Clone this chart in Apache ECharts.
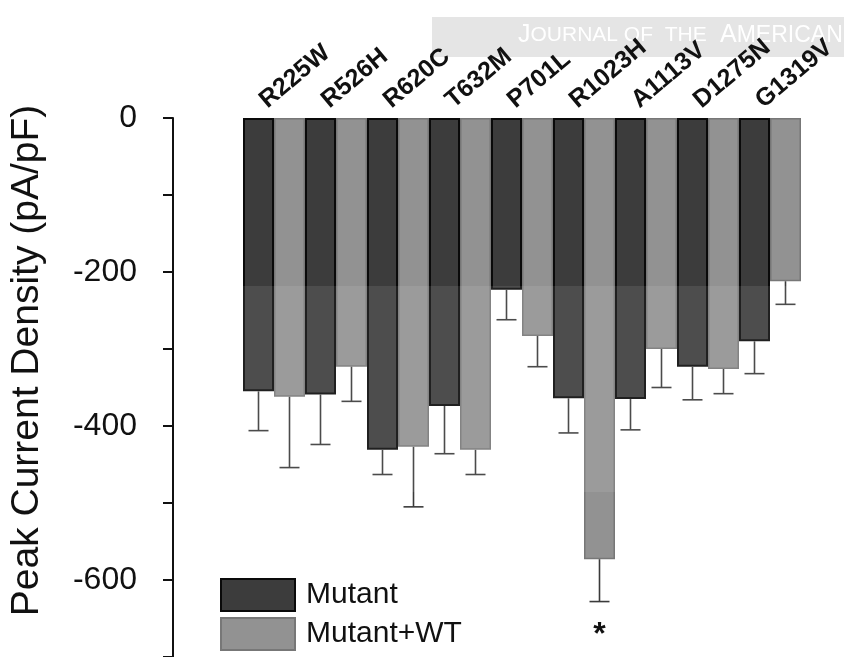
<!DOCTYPE html>
<html>
<head>
<meta charset="utf-8">
<title>Peak Current Density</title>
<script src="https://cdn.jsdelivr.net/npm/echarts@6/dist/echarts.min.js"></script>
<style>
  html, body { margin: 0; padding: 0; background: #fff; }
  #chart { width: 844px; height: 657px; }
</style>
</head>
<body>
<div id="chart"></div>
<script>
// data
var categories = ['R225W', 'R526H', 'R620C', 'T632M', 'P701L', 'R1023H', 'A1113V', 'D1275N', 'G1319V'];
var mutant = [-355, -359, -431, -374, -223, -364, -365, -323, -290];
var mutantErr = [51, 65, 32, 62, 39, 45, 40, 43, 42];
var mutantWT = [-362, -323, -427, -431, -283, -573, -300, -326, -212];
var mutantWTErr = [92, 45, 78, 32, 40, 55, 50, 32, 30];
var sigWT = ['', '', '', '', '', '*', '', '', ''];
var tickLabels = [0, -200, -400, -600];

var FONT = 'Liberation Sans, Arial, Helvetica, sans-serif';

// error bar rows: [category index, mean, sem, series index, mark]
var errRows = [];
mutant.forEach(function (v, i) { errRows.push([i, v, mutantErr[i], 0, '']); });
mutantWT.forEach(function (v, i) { errRows.push([i, v, mutantWTErr[i], 1, sigWT[i]]); });

var chart = echarts.init(document.getElementById('chart'));

chart.setOption({
  animation: false,
  grid: [
    // bars
    { left: 243, right: 43, top: 118, bottom: 0 },
    // same band, nudged, only used for the rotated labels
    { left: 240, right: 46, top: 118, bottom: 0 }
  ],
  legend: {
    data: ['Mutant', 'Mutant+WT'],
    orient: 'vertical',
    left: 220,
    top: 578,
    padding: 0,
    itemWidth: 74,
    itemHeight: 32,
    itemGap: 5,
    icon: 'rect',
    selectedMode: false,
    textStyle: { fontSize: 30, fontFamily: FONT, color: '#111', padding: [0, 0, 0, 6] }
  },
  xAxis: [{
    type: 'category',
    gridIndex: 0,
    data: categories,
    position: 'top',
    axisLine: { show: false },
    axisTick: { show: false },
    axisLabel: { show: false },
    splitLine: { show: false }
  }, {
    type: 'category',
    gridIndex: 1,
    data: categories,
    position: 'top',
    axisLine: { show: false },
    axisTick: { show: false },
    axisLabel: {
      interval: 0,
      rotate: 40,
      margin: 5,
      verticalAlign: 'bottom',
      fontSize: 25,
      fontWeight: 'bold',
      fontFamily: FONT,
      color: '#111'
    }
  }],
  yAxis: [{
    type: 'value',
    gridIndex: 0,
    min: -700,
    max: 0,
    interval: 100,
    offset: 70,
    name: 'Peak Current Density (pA/pF)',
    nameLocation: 'middle',
    nameRotate: 90,
    nameGap: 126,
    nameTextStyle: { fontSize: 39, fontFamily: FONT, color: '#111', padding: [0, 0, 0, 54] },
    axisLine: { show: true, lineStyle: { color: '#111', width: 2 } },
    axisTick: { show: true, length: 10, lineStyle: { color: '#111', width: 2 } },
    axisLabel: {
      customValues: tickLabels,
      margin: 36,
      fontSize: 32,
      fontFamily: FONT,
      color: '#111'
    },
    splitLine: { show: false }
  }, {
    // long ticks at the labelled values
    type: 'value',
    gridIndex: 0,
    min: -700,
    max: 0,
    interval: 100,
    offset: 70,
    axisLine: { show: false },
    axisTick: { show: true, customValues: tickLabels, length: 20, lineStyle: { color: '#111', width: 2 } },
    axisLabel: { show: false },
    splitLine: { show: false }
  }, {
    type: 'value',
    gridIndex: 1,
    min: -700,
    max: 0,
    show: false
  }],
  graphic: [
    // watermark band of the source image
    {
      type: 'rect', z: -10, silent: true,
      shape: { x: 432, y: 17, width: 412, height: 40 },
      style: { fill: '#e5e5e5' }
    },
    {
      type: 'text', z: -9, silent: true,
      left: 518, top: 23,
      style: {
        text: '{b|J}{s|OURNAL OF  THE}    {b|A}{w|MERICAN}',
        fill: '#fff',
        rich: {
          b: { fontSize: 25, fontFamily: FONT, fill: '#fff' },
          s: { fontSize: 21, fontFamily: FONT, fill: '#fff' },
          w: { fontSize: 23, fontFamily: FONT, fill: '#fff' }
        }
      }
    },
    // faint lighter stripe over the middle of the bars
    {
      type: 'rect', z: 100, silent: true,
      shape: { x: 243, y: 286, width: 559, height: 206 },
      style: { fill: 'rgba(255,255,255,0.09)' }
    }
  ],
  series: [{
    name: 'Mutant',
    type: 'bar',
    xAxisIndex: 0,
    yAxisIndex: 0,
    data: mutant,
    barGap: '0%',
    barCategoryGap: '0%',
    itemStyle: { color: '#3c3c3c', borderColor: '#0a0a0a', borderWidth: 2 }
  }, {
    name: 'Mutant+WT',
    type: 'bar',
    xAxisIndex: 0,
    yAxisIndex: 0,
    data: mutantWT,
    barGap: '0%',
    barCategoryGap: '0%',
    itemStyle: { color: '#929292', borderColor: '#777', borderWidth: 1.5 }
  }, {
    name: 'sem',
    type: 'custom',
    xAxisIndex: 0,
    yAxisIndex: 0,
    data: errRows,
    z: 5,
    renderItem: function (params, api) {
      var idx = api.value(0);
      var mean = api.value(1);
      var err = api.value(2);
      var s = api.value(3);
      var mark = errRows[params.dataIndex][4];
      var band = api.size([1, 0])[0];
      var dx = (s === 0 ? -0.25 : 0.25) * band;
      var p0 = api.coord([idx, mean]);
      var p1 = api.coord([idx, mean - err]);
      var x = p0[0] + dx;
      var cap = 10;
      var st = { stroke: '#3a3a3a', lineWidth: 1.6 };
      var kids = [
        { type: 'line', shape: { x1: x, y1: p0[1], x2: x, y2: p1[1] }, style: st },
        { type: 'line', shape: { x1: x - cap, y1: p1[1], x2: x + cap, y2: p1[1] }, style: st }
      ];
      if (mark) {
        kids.push({
          type: 'text',
          style: {
            text: mark, x: x, y: p1[1] + 34,
            align: 'center', verticalAlign: 'middle',
            fontSize: 32, fontWeight: 'bold', fontFamily: FONT, fill: '#111'
          }
        });
      }
      return { type: 'group', children: kids };
    }
  }]
});
</script>
</body>
</html>
